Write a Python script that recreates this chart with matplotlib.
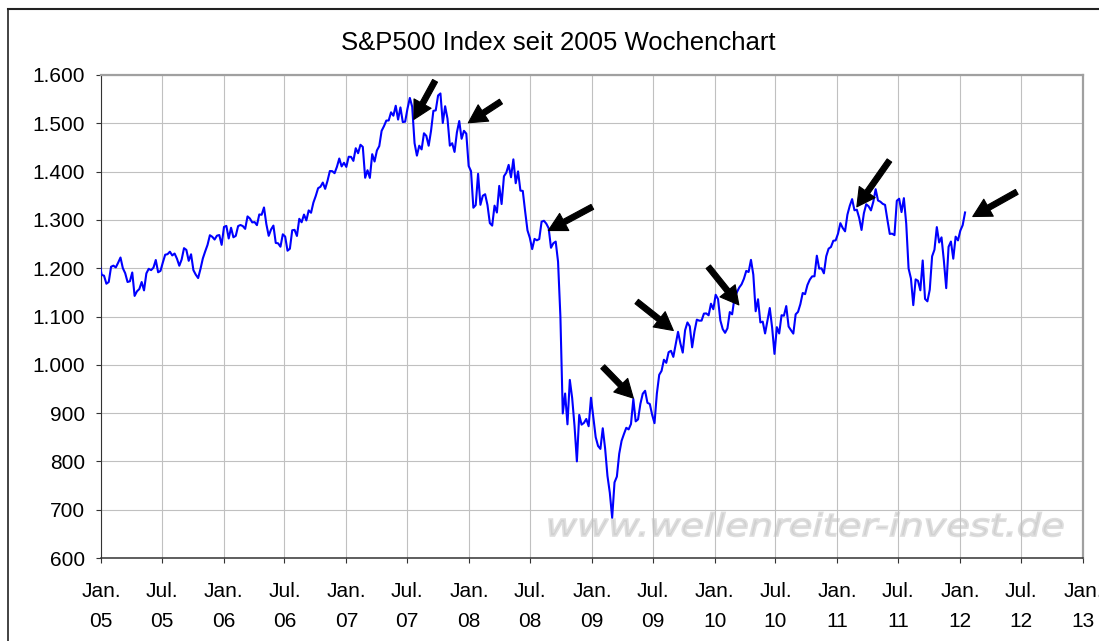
import matplotlib
matplotlib.use("Agg")
import matplotlib.pyplot as plt
import matplotlib.transforms as mtransforms
import pandas as pd
from matplotlib.textpath import TextPath
from matplotlib.patches import PathPatch
from matplotlib.font_manager import FontProperties
from matplotlib.lines import Line2D

plt.rcParams["font.family"] = ["Liberation Sans", "DejaVu Sans"]

# ---------------- data (weekly closes) ----------------
first_week = "2004-12-27"
v2004 = [1211.92]
v2005 = [1186.19, 1184.52, 1167.87, 1171.36, 1203.03, 1205.30, 1201.59, 1211.37, 1222.12, 1200.08,
         1189.65, 1171.42, 1172.92, 1191.14, 1142.62, 1152.12, 1156.85, 1171.35, 1154.05, 1189.28,
         1198.78, 1196.02, 1200.93, 1216.96, 1191.57, 1194.44, 1211.86, 1227.92, 1229.03, 1234.18,
         1226.42, 1230.39, 1219.71, 1205.10, 1218.02, 1241.48, 1237.91, 1215.29, 1228.81, 1195.90,
         1186.57, 1179.59, 1198.41, 1220.14, 1234.72, 1248.27, 1268.25, 1265.08, 1259.37, 1267.32,
         1268.66, 1248.29]
v2006 = [1285.45, 1287.61, 1261.49, 1283.72, 1264.03, 1266.99, 1287.24, 1289.43, 1287.23, 1281.42,
         1307.25, 1302.95, 1294.83, 1295.50, 1289.12, 1311.28, 1310.61, 1325.76, 1291.24, 1267.03,
         1280.16, 1288.22, 1252.30, 1251.54, 1244.50, 1270.20, 1265.48, 1236.20, 1240.29, 1278.55,
         1279.36, 1266.74, 1302.30, 1295.09, 1311.01, 1298.92, 1319.66, 1314.78, 1335.85, 1349.59,
         1365.62, 1368.60, 1377.34, 1364.30, 1380.90, 1401.20, 1400.95, 1396.71, 1409.84, 1427.09,
         1410.76, 1418.30]
v2007 = [1409.71, 1430.73, 1430.50, 1422.18, 1448.39, 1438.06, 1455.54, 1451.19, 1387.17, 1402.84,
         1386.95, 1436.11, 1420.86, 1443.76, 1452.85, 1484.35, 1494.07, 1505.62, 1505.85, 1522.75,
         1515.73, 1536.34, 1507.67, 1532.91, 1502.56, 1503.35, 1530.44, 1552.50, 1534.10, 1458.95,
         1433.06, 1453.64, 1445.94, 1479.37, 1473.99, 1453.55, 1484.25, 1525.75, 1526.75, 1557.59,
         1561.80, 1500.63, 1535.28, 1509.65, 1453.70, 1458.74, 1440.70, 1481.14, 1504.66, 1467.95,
         1484.46, 1478.49]
v2008 = [1411.63, 1401.02, 1325.19, 1330.61, 1395.42, 1331.29, 1349.99, 1353.11, 1330.63, 1293.37,
         1288.14, 1329.51, 1315.22, 1370.40, 1332.83, 1390.33, 1397.84, 1413.90, 1388.28, 1425.35,
         1375.93, 1400.38, 1360.68, 1360.03, 1317.93, 1278.38, 1262.90, 1239.49, 1260.68, 1257.76,
         1260.31, 1296.32, 1298.20, 1292.20, 1282.83, 1242.31, 1251.70, 1255.08, 1213.27, 1099.23,
         899.22, 940.55, 876.77, 968.75, 930.99, 873.29, 800.03, 896.24, 876.07, 879.73,
         887.88, 872.80]
v2009 = [931.80, 890.35, 850.12, 831.95, 825.88, 868.60, 826.84, 770.05, 735.09, 683.38,
         756.55, 768.54, 815.94, 842.50, 856.56, 869.60, 866.23, 877.52, 929.23, 882.88,
         887.00, 919.14, 940.09, 946.21, 921.23, 918.90, 896.42, 879.13, 940.38, 979.26,
         987.48, 1010.48, 1004.09, 1026.13, 1028.93, 1016.40, 1042.73, 1068.30, 1044.38, 1025.21,
         1071.49, 1087.68, 1079.60, 1036.19, 1069.30, 1093.48, 1091.38, 1091.49, 1105.98, 1106.41,
         1102.47, 1126.48, 1115.10]
v2010 = [1144.98, 1136.03, 1091.76, 1073.87, 1066.19, 1075.51, 1109.17, 1104.49, 1138.70, 1149.99,
         1159.90, 1166.59, 1178.10, 1194.37, 1192.13, 1217.28, 1186.69, 1110.88, 1135.68, 1087.69,
         1089.41, 1064.88, 1091.60, 1117.51, 1076.76, 1022.58, 1077.96, 1064.88, 1102.66, 1101.60,
         1121.64, 1079.25, 1071.69, 1064.59, 1104.51, 1109.55, 1125.59, 1148.67, 1146.24, 1165.15,
         1176.19, 1183.08, 1183.26, 1225.85, 1199.21, 1199.73, 1189.40, 1224.71, 1240.40, 1243.91,
         1256.77, 1257.64]
v2011 = [1271.50, 1293.24, 1283.35, 1276.34, 1310.87, 1329.15, 1343.01, 1319.88, 1321.15, 1304.28,
         1279.20, 1313.80, 1332.41, 1328.17, 1319.68, 1337.38, 1363.61, 1340.20, 1337.77, 1333.27,
         1331.10, 1300.16, 1270.98, 1271.50, 1268.45, 1339.67, 1343.80, 1316.14, 1345.02, 1292.28,
         1199.38, 1178.81, 1123.53, 1176.80, 1173.97, 1154.23, 1216.01, 1136.43, 1131.42, 1155.46,
         1224.58, 1238.25, 1285.09, 1253.23, 1263.85, 1215.65, 1158.67, 1244.28, 1255.19, 1219.66,
         1265.33, 1257.60]
v2012 = [1277.81, 1289.09, 1315.38]

x_tick_dates = ["2005-01-01", "2005-07-01", "2006-01-01", "2006-07-01", "2007-01-01", "2007-07-01",
                "2008-01-01", "2008-07-01", "2009-01-01", "2009-07-01", "2010-01-01", "2010-07-01",
                "2011-01-01", "2011-07-01", "2012-01-01", "2012-07-01", "2013-01-01"]
x_tick_labels = ["Jan.\n05", "Jul.\n05", "Jan.\n06", "Jul.\n06", "Jan.\n07", "Jul.\n07",
                 "Jan.\n08", "Jul.\n08", "Jan.\n09", "Jul.\n09", "Jan.\n10", "Jul.\n10",
                 "Jan.\n11", "Jul.\n11", "Jan.\n12", "Jul.\n12", "Jan.\n13"]
y_ticks = [600, 700, 800, 900, 1000, 1100, 1200, 1300, 1400, 1500, 1600]
y_tick_labels = ["600", "700", "800", "900", "1.000", "1.100", "1.200", "1.300", "1.400",
                 "1.500", "1.600"]

# arrows: (tip date, tip value, tail date, tail value)
arrow_tips = [("2007-07-21", 1508), ("2007-12-30", 1501), ("2008-08-24", 1278), ("2009-05-04", 931),
              ("2009-08-31", 1071), ("2010-03-14", 1124), ("2011-02-28", 1327), ("2012-02-08", 1307)]
arrow_tails = [("2007-09-22", 1588), ("2008-04-05", 1545), ("2009-01-02", 1327), ("2009-02-02", 996),
               ("2009-05-14", 1131), ("2009-12-13", 1203), ("2011-06-05", 1423), ("2012-06-18", 1358)]

title = "S&P500 Index seit 2005 Wochenchart"
watermark = "www.wellenreiter-invest.de"

# ---------------- figure ----------------
W, H = 1099, 641
fig = plt.figure(figsize=(W / 100, H / 100), dpi=100)
fig.patch.set_facecolor("white")
ax = fig.add_axes([101 / W, 1 - 558 / H, (1083 - 101) / W, (558 - 75) / H])
ax.patch.set_visible(False)

series = v2004 + v2005 + v2006 + v2007 + v2008 + v2009 + v2010 + v2011 + v2012
dates = pd.date_range(first_week, periods=len(series), freq="W-MON")
ax.plot(dates, series, color="#0000ff", lw=1.5, zorder=3)

ax.set_xlim(pd.Timestamp("2005-01-01"), pd.Timestamp("2013-01-01"))
ax.set_ylim(600, 1600)
ax.set_xticks(pd.to_datetime(x_tick_dates))
ax.set_xticklabels(x_tick_labels, linespacing=1.75)
ax.set_yticks(y_ticks)
ax.set_yticklabels(y_tick_labels)
ax.tick_params(axis="both", direction="out", length=3.6, width=0.8, color="#333333",
               labelsize=15, labelcolor="black")
ax.tick_params(axis="y", pad=8)
ax.tick_params(axis="x", pad=13.5)

ax.set_axisbelow(True)
ax.grid(True, color="#c0c0c0", lw=0.8)
for s in ("top", "right"):
    ax.spines[s].set_color("#a0a0a0")
    ax.spines[s].set_linewidth(1.6)
ax.spines["left"].set_color("#333333")
ax.spines["left"].set_linewidth(0.8)
ax.spines["bottom"].set_color("#333333")
ax.spines["bottom"].set_linewidth(1.1)

for (td, tv), (sd, sv) in zip(arrow_tips, arrow_tails):
    ax.annotate("", xy=(pd.Timestamp(td), tv), xytext=(pd.Timestamp(sd), sv),
                arrowprops=dict(arrowstyle="simple,head_length=0.65,head_width=0.7,tail_width=0.2",
                                fc="black", ec="black", lw=0.8, shrinkA=0, shrinkB=0,
                                mutation_scale=20),
                annotation_clip=False, zorder=5)

fig.text(558 / W, 1 - 43 / H, title, ha="center", va="center", fontsize=18.5)

# watermark
tp = TextPath((0, 0), watermark, size=31,
              prop=FontProperties(family="DejaVu Sans", style="oblique"))
bb = tp.get_extents()
sx = (1063 - 549) / bb.width
tr = mtransforms.Affine2D().translate(-bb.x0, 0).scale(sx, 1).translate(549, H - 536)
wm = PathPatch(tp, transform=tr, facecolor="#d0d0d0", edgecolor="#dedede", lw=1.2, zorder=-1)
fig.add_artist(wm)

# outer frame
fig.add_artist(Line2D([8 / W, 8 / W], [0, 1 - 9 / H], transform=fig.transFigure,
                      color="#222222", lw=1.2))
fig.add_artist(Line2D([8 / W, 1], [1 - 9 / H, 1 - 9 / H], transform=fig.transFigure,
                      color="#222222", lw=1.5))

fig.savefig("out.png", dpi=100)
